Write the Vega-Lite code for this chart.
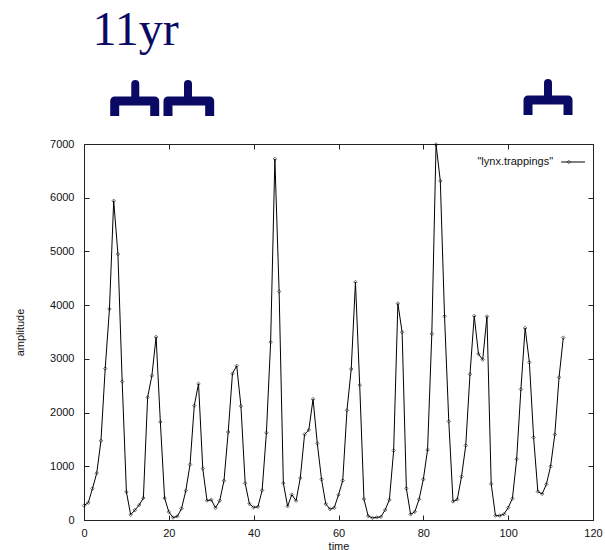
{
  "$schema": "https://vega.github.io/schema/vega-lite/v6.json",
  "autosize": {"type": "pad"},
  "padding": {"left": 14, "top": 0, "right": 0, "bottom": 0},
  "background": "white",
  "bounds": "flush",
  "spacing": 0,
  "config": {
    "view": {"stroke": "#222", "strokeWidth": 1},
    "axis": {
      "grid": false, "domain": false, "tickColor": "#222", "tickSize": -5, "format": "d", "labelFlush": false, "labelOverlap": false,
      "labelFont": "Liberation Sans", "labelFontSize": 11, "labelColor": "#111",
      "titleFont": "Liberation Sans", "titleFontSize": 11, "titleFontWeight": "normal", "titleColor": "#111"
    }
  },
  "datasets": {
    "lynx": [
      {"t":0,"v":269},{"t":1,"v":321},{"t":2,"v":585},{"t":3,"v":871},{"t":4,"v":1475},{"t":5,"v":2821},{"t":6,"v":3928},{"t":7,"v":5943},{"t":8,"v":4950},{"t":9,"v":2577},
      {"t":10,"v":523},{"t":11,"v":98},{"t":12,"v":184},{"t":13,"v":279},{"t":14,"v":409},{"t":15,"v":2285},{"t":16,"v":2685},{"t":17,"v":3409},{"t":18,"v":1824},{"t":19,"v":409},
      {"t":20,"v":151},{"t":21,"v":45},{"t":22,"v":68},{"t":23,"v":213},{"t":24,"v":546},{"t":25,"v":1033},{"t":26,"v":2129},{"t":27,"v":2536},{"t":28,"v":957},{"t":29,"v":361},
      {"t":30,"v":377},{"t":31,"v":225},{"t":32,"v":360},{"t":33,"v":731},{"t":34,"v":1638},{"t":35,"v":2725},{"t":36,"v":2871},{"t":37,"v":2119},{"t":38,"v":684},{"t":39,"v":299},
      {"t":40,"v":236},{"t":41,"v":245},{"t":42,"v":552},{"t":43,"v":1623},{"t":44,"v":3311},{"t":45,"v":6721},{"t":46,"v":4254},{"t":47,"v":687},{"t":48,"v":255},{"t":49,"v":473},
      {"t":50,"v":358},{"t":51,"v":784},{"t":52,"v":1594},{"t":53,"v":1676},{"t":54,"v":2251},{"t":55,"v":1426},{"t":56,"v":756},{"t":57,"v":299},{"t":58,"v":201},{"t":59,"v":229},
      {"t":60,"v":469},{"t":61,"v":736},{"t":62,"v":2042},{"t":63,"v":2811},{"t":64,"v":4431},{"t":65,"v":2511},{"t":66,"v":389},{"t":67,"v":73},{"t":68,"v":39},{"t":69,"v":49},
      {"t":70,"v":59},{"t":71,"v":188},{"t":72,"v":377},{"t":73,"v":1292},{"t":74,"v":4031},{"t":75,"v":3495},{"t":76,"v":587},{"t":77,"v":105},{"t":78,"v":153},{"t":79,"v":387},
      {"t":80,"v":758},{"t":81,"v":1307},{"t":82,"v":3465},{"t":83,"v":6991},{"t":84,"v":6313},{"t":85,"v":3794},{"t":86,"v":1836},{"t":87,"v":345},{"t":88,"v":382},{"t":89,"v":808},
      {"t":90,"v":1388},{"t":91,"v":2713},{"t":92,"v":3800},{"t":93,"v":3091},{"t":94,"v":2985},{"t":95,"v":3790},{"t":96,"v":674},{"t":97,"v":81},{"t":98,"v":80},{"t":99,"v":108},
      {"t":100,"v":229},{"t":101,"v":399},{"t":102,"v":1132},{"t":103,"v":2432},{"t":104,"v":3574},{"t":105,"v":2935},{"t":106,"v":1537},{"t":107,"v":529},{"t":108,"v":485},{"t":109,"v":662},
      {"t":110,"v":1000},{"t":111,"v":1590},{"t":112,"v":2657},{"t":113,"v":3396}
    ],
    "braces": [
      {"b":1,"o":1,"t":7.24,"h":28},{"b":1,"o":2,"t":7.24,"h":43},{"b":1,"o":3,"t":16.67,"h":43},{"b":1,"o":4,"t":16.67,"h":28},
      {"b":2,"o":1,"t":19.8,"h":28},{"b":2,"o":2,"t":19.8,"h":43},{"b":2,"o":3,"t":29.63,"h":43},{"b":2,"o":4,"t":29.63,"h":28},
      {"b":3,"o":1,"t":104.68,"h":29},{"b":3,"o":2,"t":104.68,"h":44},{"b":3,"o":3,"t":114.11,"h":44},{"b":3,"o":4,"t":114.11,"h":29}
    ],
    "nubs": [
      {"t":12.09,"h1":43,"h2":60},
      {"t":24.52,"h1":43,"h2":60},
      {"t":109.39,"h1":44,"h2":61}
    ]
  },
  "resolve": {"scale": {"x": "independent", "y": "independent"}},
  "vconcat": [
    {
      "width": 509,
      "height": 144,
      "view": {"stroke": null, "fill": "white"},
      "layer": [
        {
          "data": {"name": "braces"},
          "mark": {"type": "line", "color": "#0a0a64", "strokeWidth": 9, "strokeJoin": "round", "strokeCap": "butt"},
          "encoding": {
            "x": {"field": "t", "type": "quantitative", "scale": {"domain": [0, 120], "nice": false, "zero": false}, "axis": null},
            "y": {"field": "h", "type": "quantitative", "scale": {"domain": [0, 144], "nice": false}, "axis": null},
            "detail": {"field": "b"},
            "order": {"field": "o"}
          }
        },
        {
          "data": {"name": "nubs"},
          "mark": {"type": "rule", "color": "#0a0a64", "strokeWidth": 8, "strokeCap": "round"},
          "encoding": {
            "x": {"field": "t", "type": "quantitative", "axis": null},
            "y": {"field": "h1", "type": "quantitative", "axis": null},
            "y2": {"field": "h2"}
          }
        },
        {
          "data": {"values": [{"label": "11yr"}]},
          "mark": {"type": "text", "font": "Liberation Serif", "fontSize": 48, "color": "#0a0a64", "align": "left", "baseline": "alphabetic"},
          "encoding": {
            "x": {"datum": 2.0, "type": "quantitative", "axis": null},
            "y": {"datum": 99, "type": "quantitative", "axis": null},
            "text": {"field": "label"}
          }
        }
      ]
    },
    {
      "width": 509,
      "height": 376,
      "resolve": {"axis": {"x": "independent", "y": "independent"}},
      "layer": [
        {
          "data": {"name": "lynx"},
          "mark": {"type": "line", "color": "black", "strokeWidth": 1},
          "encoding": {
            "x": {"field": "t", "type": "quantitative", "scale": {"domain": [0, 120], "nice": false, "zero": false},
                  "axis": {"orient": "bottom", "values": [0, 20, 40, 60, 80, 100, 120], "title": "time", "labelPadding": 12, "titlePadding": 2}},
            "y": {"field": "v", "type": "quantitative", "scale": {"domain": [0, 7000], "nice": false},
                  "axis": {"orient": "left", "values": [0, 1000, 2000, 3000, 4000, 5000, 6000, 7000], "title": "amplitude", "labelPadding": 15, "titlePadding": 24}}
          }
        },
        {
          "data": {"name": "lynx"},
          "mark": {"type": "point", "shape": "diamond", "size": 12, "filled": false, "stroke": "black", "strokeWidth": 0.8},
          "encoding": {
            "x": {"field": "t", "type": "quantitative",
                  "axis": {"orient": "top", "values": [0, 20, 40, 60, 80, 100, 120], "labels": false, "title": null}},
            "y": {"field": "v", "type": "quantitative",
                  "axis": {"orient": "right", "values": [0, 1000, 2000, 3000, 4000, 5000, 6000, 7000], "labels": false, "title": null}}
          }
        },
        {
          "data": {"values": [{"label": "\"lynx.trappings\""}]},
          "mark": {"type": "text", "font": "Liberation Sans", "fontSize": 11, "color": "#111", "align": "right", "baseline": "middle"},
          "encoding": {
            "x": {"datum": 110.6, "type": "quantitative", "axis": null},
            "y": {"datum": 6665, "type": "quantitative", "axis": null},
            "text": {"field": "label"}
          }
        },
        {
          "data": {"values": [{"k": 1}]},
          "mark": {"type": "rule", "color": "black", "strokeWidth": 1},
          "encoding": {
            "x": {"datum": 112.5, "type": "quantitative", "axis": null},
            "x2": {"datum": 118.1},
            "y": {"datum": 6665, "type": "quantitative", "axis": null}
          }
        },
        {
          "data": {"values": [{"k": 1}]},
          "mark": {"type": "point", "shape": "diamond", "size": 12, "filled": false, "stroke": "black", "strokeWidth": 0.8},
          "encoding": {
            "x": {"datum": 114.3, "type": "quantitative", "axis": null},
            "y": {"datum": 6665, "type": "quantitative", "axis": null}
          }
        }
      ]
    }
  ]
}
